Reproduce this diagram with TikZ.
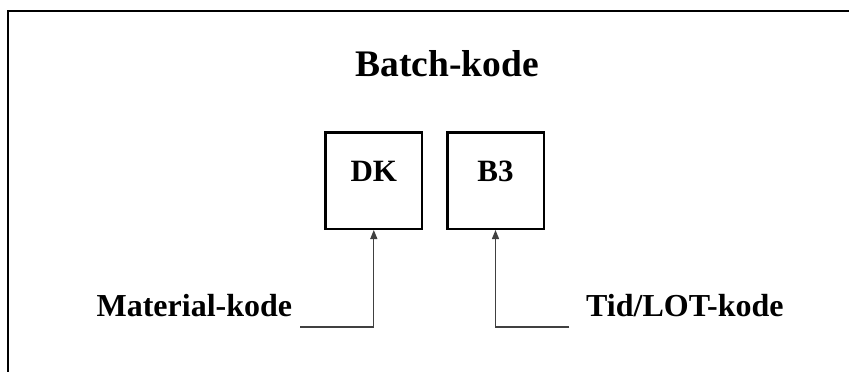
\documentclass[tikz,border=0pt]{standalone}
\usepackage{fontspec}
\setmainfont{Liberation Serif}
\usetikzlibrary{arrows.meta}

\tikzstyle{codebox} = [draw, line width=2.5pt, minimum size=96.5pt, inner sep=0pt, text height=20pt, text depth=18pt, font=\fontsize{31}{36}\selectfont\bfseries]
\tikzstyle{caption} = [inner sep=0pt, font=\fontsize{32}{38}\selectfont\bfseries]
\tikzstyle{pointer} = [draw=black!75, line width=1.2pt, -{Triangle[length=9pt,width=7pt]}]

\begin{document}
\begin{tikzpicture}[x=1pt, y=-1pt]
      \useasboundingbox (0,0) rectangle (849,372);
      \draw[line width=2pt] (7.5,380) -- (7.5,10.5) -- (860,10.5);
      \node[caption, anchor=base, font=\fontsize{37.5}{42}\selectfont\bfseries] (title) at (447,76) {Batch-kode};
      \node[codebox] (dk) at (373.8,180.5) {DK};
      \node[codebox] (b3) at (495.5,180.5) {B3};
      \node[caption, anchor=base east] (material) at (292.3,316) {Material-kode};
      \node[caption, anchor=base west] (lot) at (586,316) {Tid/LOT-kode};
      \coordinate (mfoot) at (300,327);
      \coordinate (lfoot) at (569.3,327);
      \draw[pointer] (mfoot) -| (dk);
      \draw[pointer] (lfoot) -| (b3);
    \end{tikzpicture}
\end{document}
